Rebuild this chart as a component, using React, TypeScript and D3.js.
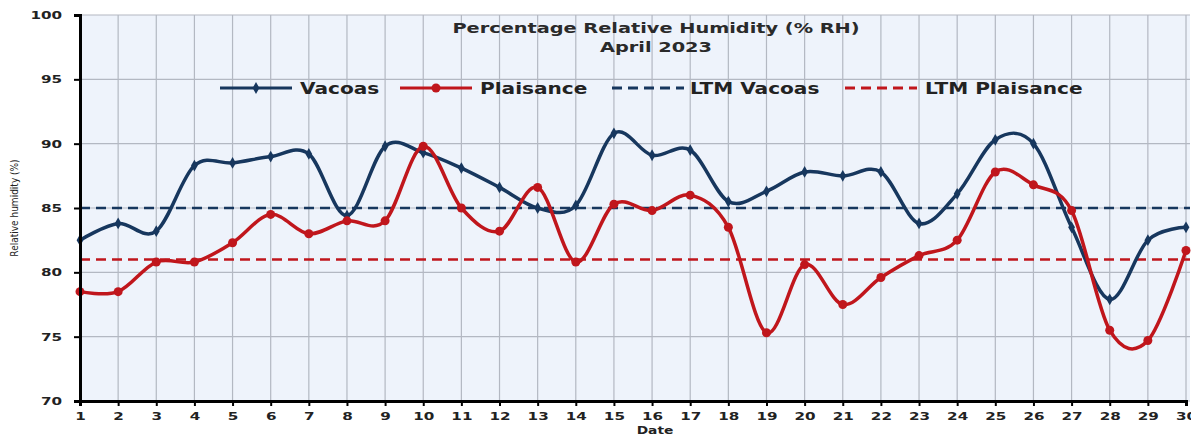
import React, { useEffect, useRef } from 'react';
import * as d3 from 'd3';

const days = d3.range(1, 31);
const vacoas = [82.5, 83.8, 83.2, 88.3, 88.5, 89.0, 89.2, 84.4, 89.8, 89.3, 88.1, 86.6, 85.0, 85.2, 90.8, 89.1, 89.5, 85.5, 86.3, 87.8, 87.5, 87.8, 83.8, 86.1, 90.3, 90.0, 83.5, 77.9, 82.5, 83.5];
const plaisance = [78.5, 78.5, 80.8, 80.8, 82.3, 84.5, 83.0, 84.0, 84.0, 89.8, 85.0, 83.2, 86.6, 80.8, 85.3, 84.8, 86.0, 83.5, 75.3, 80.6, 77.5, 79.6, 81.3, 82.5, 87.8, 86.8, 84.8, 75.5, 74.7, 81.7];
const ltmVacoas = 85.0;
const ltmPlaisance = 81.0;
const yTicks = [70, 75, 80, 85, 90, 95, 100];

const navy = '#17375e';
const red = '#c0161c';
const stretch = 1.38; // the reference text is horizontally stretched

const App = () => {
  const svgRef = useRef(null);
  const width = 1191;
  const height = 437;
  const margin = { top: 15, right: 5, bottom: 36, left: 80 };

  useEffect(() => {
    const svg = d3.select(svgRef.current);
    svg.selectAll('*').remove();

    const x = d3.scaleLinear().domain([1, 30]).range([margin.left, width - margin.right]);
    const y = d3.scaleLinear().domain([70, 100]).range([height - margin.bottom, margin.top]);

    // plot background
    svg.append('rect')
      .attr('x', margin.left).attr('y', margin.top)
      .attr('width', width - margin.right - margin.left + 4)
      .attr('height', y(70) - margin.top)
      .attr('fill', '#eef3fb');

    // grid
    svg.append('g').selectAll('line').data(days).join('line')
      .attr('x1', d => x(d)).attr('x2', d => x(d))
      .attr('y1', margin.top).attr('y2', y(70))
      .attr('stroke', '#b3b8c2').attr('stroke-width', 1.2);
    svg.append('g').selectAll('line').data(yTicks).join('line')
      .attr('x1', margin.left).attr('x2', width - 1)
      .attr('y1', d => y(d)).attr('y2', d => y(d))
      .attr('stroke', '#b3b8c2').attr('stroke-width', 1.2);

    // LTM lines
    svg.append('line')
      .attr('x1', margin.left).attr('x2', width - 1)
      .attr('y1', y(ltmVacoas)).attr('y2', y(ltmVacoas))
      .attr('stroke', navy).attr('stroke-width', 2.5).attr('stroke-dasharray', '10,6');
    svg.append('line')
      .attr('x1', margin.left).attr('x2', width - 1)
      .attr('y1', y(ltmPlaisance)).attr('y2', y(ltmPlaisance))
      .attr('stroke', red).attr('stroke-width', 2.5).attr('stroke-dasharray', '10,6');

    const line = d3.line<number>()
      .x((d, i) => x(days[i]))
      .y(d => y(d))
      .curve(d3.curveCatmullRom.alpha(0));

    svg.append('path').datum(vacoas)
      .attr('d', line).attr('fill', 'none')
      .attr('stroke', navy).attr('stroke-width', 3.5);
    svg.append('g').selectAll('path').data(vacoas).join('path')
      .attr('d', d3.symbol(d3.symbolDiamond, 40))
      .attr('transform', (d, i) => `translate(${x(days[i])},${y(d)})`)
      .attr('fill', navy);

    svg.append('path').datum(plaisance)
      .attr('d', line).attr('fill', 'none')
      .attr('stroke', red).attr('stroke-width', 3.5);
    svg.append('g').selectAll('circle').data(plaisance).join('circle')
      .attr('cx', (d, i) => x(days[i])).attr('cy', d => y(d))
      .attr('r', 4.5).attr('fill', red);

    // axes
    const yAxis = svg.append('g')
      .attr('transform', `translate(${margin.left},0)`)
      .call(d3.axisLeft(y).tickValues(yTicks).tickSize(6).tickPadding(7));
    yAxis.select('.domain').attr('stroke', '#000').attr('stroke-width', 3);
    yAxis.selectAll('.tick line').attr('stroke', '#000').attr('stroke-width', 2);
    yAxis.selectAll('text')
      .attr('font-family', 'DejaVu Sans').attr('font-weight', 'bold')
      .attr('font-size', 11).attr('fill', '#222')
      .attr('transform', `scale(${stretch},1)`);

    const xAxis = svg.append('g')
      .attr('transform', `translate(0,${y(70)})`)
      .call(d3.axisBottom(x).tickValues(days).tickFormat(d3.format('d')).tickSize(5).tickPadding(6));
    xAxis.select('.domain').attr('stroke', '#000').attr('stroke-width', 3);
    xAxis.selectAll('.tick line').attr('stroke', '#000').attr('stroke-width', 2);
    xAxis.selectAll('text')
      .attr('font-family', 'DejaVu Sans').attr('font-weight', 'bold')
      .attr('font-size', 11).attr('fill', '#222')
      .attr('transform', `scale(${stretch},1)`);

    svg.append('text')
      .attr('transform', `translate(655,434) scale(${stretch},1)`)
      .attr('text-anchor', 'middle')
      .attr('font-family', 'DejaVu Sans').attr('font-weight', 'bold')
      .attr('font-size', 10).attr('fill', '#222')
      .text('Date');

    svg.append('text')
      .attr('transform', `translate(18,${y(85)}) rotate(-90)`)
      .attr('text-anchor', 'middle')
      .attr('font-family', 'Liberation Sans Narrow, DejaVu Sans Condensed')
      .attr('font-size', 10).attr('fill', '#222')
      .text('Relative humidity (%)');

    // title
    const titleLines = ['Percentage Relative Humidity (% RH)', 'April 2023'];
    titleLines.forEach((t, i) => {
      svg.append('text')
        .attr('transform', `translate(656,${33 + i * 19}) scale(${stretch},1)`)
        .attr('text-anchor', 'middle')
        .attr('font-family', 'DejaVu Sans').attr('font-weight', 'bold')
        .attr('font-size', 14).attr('fill', '#2a2a2a')
        .text(t);
    });

    // legend
    const legend = [
      { label: 'Vacoas', color: navy, dash: null, marker: 'diamond', x0: 220, tx: 300 },
      { label: 'Plaisance', color: red, dash: null, marker: 'circle', x0: 400, tx: 480 },
      { label: 'LTM Vacoas', color: navy, dash: '10,6', marker: null, x0: 612, tx: 690 },
      { label: 'LTM Plaisance', color: red, dash: '10,6', marker: null, x0: 845, tx: 925 },
    ];
    const lg = svg.append('g');
    legend.forEach(item => {
      const ly = 88;
      lg.append('line')
        .attr('x1', item.x0).attr('x2', item.x0 + 72)
        .attr('y1', ly).attr('y2', ly)
        .attr('stroke', item.color).attr('stroke-width', 3)
        .attr('stroke-dasharray', item.dash);
      if (item.marker === 'diamond') {
        lg.append('path').attr('d', d3.symbol(d3.symbolDiamond, 40))
          .attr('transform', `translate(${item.x0 + 36},${ly})`).attr('fill', item.color);
      } else if (item.marker === 'circle') {
        lg.append('circle').attr('cx', item.x0 + 36).attr('cy', ly).attr('r', 4.5).attr('fill', item.color);
      }
      lg.append('text')
        .attr('transform', `translate(${item.tx},${ly + 5.5}) scale(1.34,1)`)
        .attr('font-family', 'DejaVu Sans').attr('font-weight', 'bold')
        .attr('font-size', 15).attr('fill', '#222')
        .text(item.label);
    });
  }, []);

  return <svg ref={svgRef} width={width} height={height} style={{ display: 'block', position: 'absolute', left: 0, top: 0 }} />;
};

export default App;
